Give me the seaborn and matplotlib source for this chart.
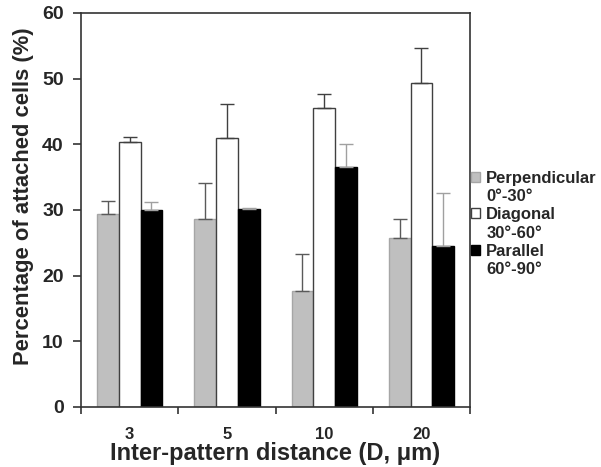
import numpy as np
import pandas as pd
import matplotlib
matplotlib.use("Agg")
import matplotlib.pyplot as plt
import seaborn as sns

# Attached-cell percentages per orientation class and inter-pattern distance
distances = ["3", "5", "10", "20"]
orientation_names = ["Perpendicular", "Diagonal", "Parallel"]
angle_ranges = ["0°-30°", "30°-60°", "60°-90°"]
perpendicular = [29.4, 28.7, 17.7, 25.8]
diagonal = [40.3, 41.0, 45.6, 49.4]
parallel = [30.0, 30.2, 36.5, 24.5]
perpendicular_err = [2.0, 5.4, 5.6, 2.8]
diagonal_err = [0.8, 5.2, 2.1, 5.3]
parallel_err = [1.2, 0.1, 3.5, 8.1]

values = [perpendicular, diagonal, parallel]
errors = [perpendicular_err, diagonal_err, parallel_err]

df = pd.DataFrame({
    "distance": np.repeat([distances], 3, axis=0).ravel(),
    "orientation": np.repeat(orientation_names, len(distances)),
    "value": np.concatenate(values),
})

sns.set_theme(style="ticks")
plt.rcParams["font.family"] = ["Liberation Sans", "DejaVu Sans"]
plt.rcParams["font.weight"] = "bold"

fig = plt.figure(figsize=(6.01, 4.67), dpi=100)
ax = fig.add_axes([0.1348, 0.1285, 0.6474, 0.8437])

fills = ["#bfbfbf", "#ffffff", "#000000"]
edges = ["#a6a6a6", "#404040", "#000000"]
err_colors = ["#5a5a5a", "#404040", "#a0a0a0"]

sns.barplot(data=df, x="distance", y="value", hue="orientation",
            order=distances, hue_order=orientation_names, palette=fills,
            errorbar=None, width=0.67, gap=0, saturation=1, ax=ax, legend=False)

# one-sided (upper) error bars on each bar
for cont, ec, errc, err in zip(ax.containers, edges, err_colors, errors):
    xs, ys = [], []
    for bar in cont:
        bar.set_edgecolor(ec)
        bar.set_linewidth(1.0)
        xs.append(bar.get_x() + bar.get_width() / 2)
        ys.append(bar.get_height())
    ax.errorbar(xs, ys, yerr=[np.zeros(len(err)), err], fmt="none",
                ecolor=errc, elinewidth=1.0, capsize=5, capthick=1.0, zorder=1)

ax.set_ylim(0, 60)
ax.set_yticks(np.arange(0, 61, 10))
ax.set_xlim(-0.5, len(distances) - 0.5)
ax.set_xticks(np.arange(len(distances)))
ax.set_xticklabels(distances)
ax.set_xticks(np.arange(len(distances) + 1) - 0.5, minor=True)
ax.tick_params(axis="x", which="major", length=0, pad=14.5, labelsize=12)
ax.tick_params(axis="x", which="minor", length=5, width=1.2, direction="out", color="#333333")
ax.tick_params(axis="y", length=5.5, width=1.2, direction="out", pad=7,
               labelsize=14, color="#333333")
for lab in ax.get_xticklabels() + ax.get_yticklabels():
    lab.set_fontweight("bold")

for sp in ax.spines.values():
    sp.set_visible(True)
    sp.set_linewidth(1.2)
    sp.set_color("#333333")

ax.set_xlabel("Inter-pattern distance (D, μm)", fontsize=17, fontweight="bold", labelpad=0)
ax.set_ylabel("Percentage of attached cells (%)", fontsize=15.8, fontweight="bold")
ax.yaxis.set_label_coords(-0.12, 0.535)

# legend: swatch on the name line, angle range on the line below
handles, labels = [], []
for f, e, name, rng in zip(fills, edges, orientation_names, angle_ranges):
    handles.append(plt.Rectangle((0, 0), 1, 1, facecolor=f, edgecolor=e, linewidth=1.0))
    labels.append(name)
    handles.append(plt.Rectangle((0, 0), 1, 1, fill=False, edgecolor="none"))
    labels.append(rng)
leg = ax.legend(handles, labels, loc="upper left", bbox_to_anchor=(1.003, 0.60),
                frameon=False, fontsize=12, handlelength=0.55, handleheight=0.55,
                handletextpad=0.35, labelspacing=0.2, borderaxespad=0.0, borderpad=0.0)
for t in leg.get_texts():
    t.set_fontweight("bold")

fig.savefig("out.png", dpi=100)
